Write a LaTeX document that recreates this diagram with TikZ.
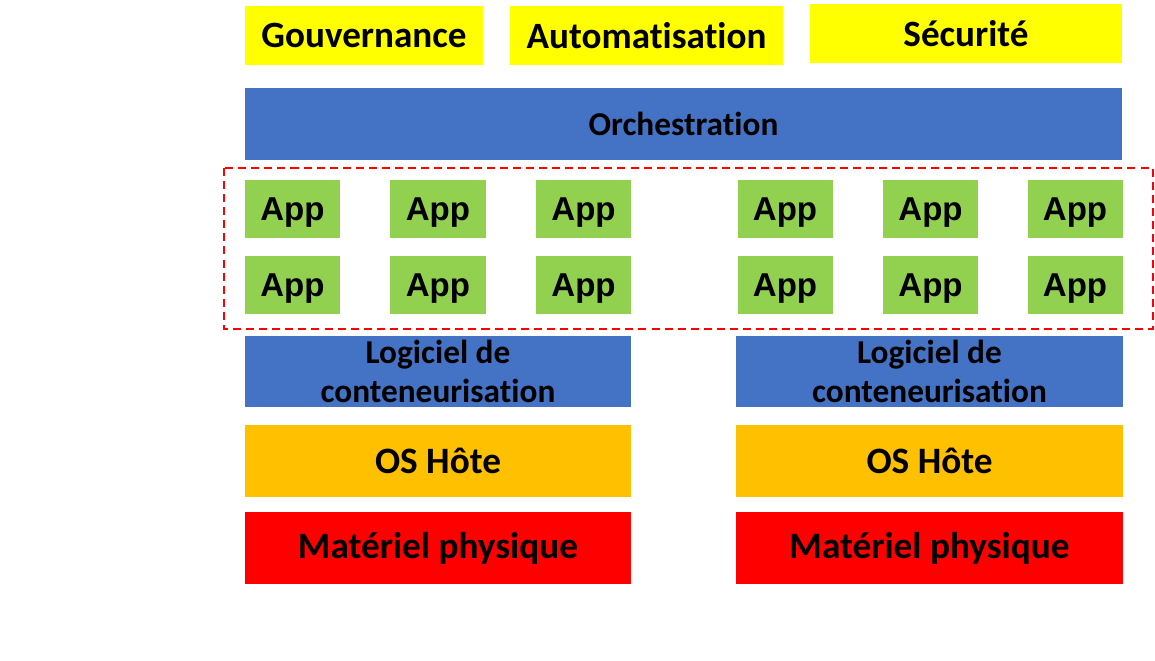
\documentclass[tikz,border=0pt]{standalone}
\usepackage{fontspec}
\setmainfont[Ligatures=NoCommon]{Carlito}
\newfontfamily\appfont{Liberation Sans}
\usepackage{tikz}
\usetikzlibrary{positioning,calc}
\usepackage{xcolor}
\definecolor{jaune}{RGB}{255,255,0}
\definecolor{bleu}{RGB}{68,114,196}
\definecolor{vert}{RGB}{146,208,80}
\definecolor{ambre}{RGB}{255,192,0}
\definecolor{rouge}{RGB}{255,0,0}

\begin{document}
\begin{tikzpicture}[x=0.025cm,y=-0.025cm,
  bloc/.style={rectangle,inner sep=0pt,text=black,align=center},
  couche/.style={bloc,minimum width=9.65cm,minimum height=1.8cm,
    font=\bfseries\fontsize{26.5}{30}\selectfont},
  appbox/.style={bloc,fill=vert,minimum width=2.375cm,minimum height=1.45cm,
    text depth=0pt,font=\appfont\bfseries\fontsize{23.5}{26}\selectfont},
  titre/.style={bloc,fill=jaune,minimum height=1.475cm,
    font=\bfseries\fontsize{26.4}{30}\selectfont}]
\useasboundingbox[fill=white] (0,0) rectangle (1155,660);

% piliers du haut
\node[titre,minimum width=5.95cm] (gouv) at (364,35.5) {Gouvernance};
\node[titre,minimum width=6.825cm] (auto) at (646.5,35.5) {Automatisation};
\node[titre,minimum width=7.8cm] (secu) at (966,33.5) {Sécurité};

\node[bloc,fill=bleu,minimum width=21.925cm,minimum height=1.8cm,
  font=\bfseries\fontsize{23.7}{28}\selectfont] (orch) at (683.5,124) {Orchestration};

% conteneurs
\foreach \x [count=\i] in {292.5,438,583.5,785,930.5,1075}{
  \node[appbox] (app1\i) at (\x,209) {App};
  \node[appbox] (app2\i) at (\x,285) {App};
}
\coordinate (cadreA) at (224,168);
\coordinate (cadreB) at (1153,329);
\draw[rouge,line width=1.4pt,dash pattern=on 5.7pt off 3.6pt] (cadreA) rectangle (cadreB);

% deux hotes
\foreach \n/\x in {A/438,B/929.5}{
  \node[couche,fill=bleu,minimum height=1.775cm,
    font=\bfseries\fontsize{23.7}{27.7}\selectfont] (log\n) at (\x,371.5)
    {Logiciel de\\conteneurisation};
  \node[couche,fill=ambre] (os\n) at (\x,461) {OS Hôte};
  \node[couche,fill=rouge] (mat\n) at (\x,548) {Matériel physique};
}
\end{tikzpicture}
\end{document}
